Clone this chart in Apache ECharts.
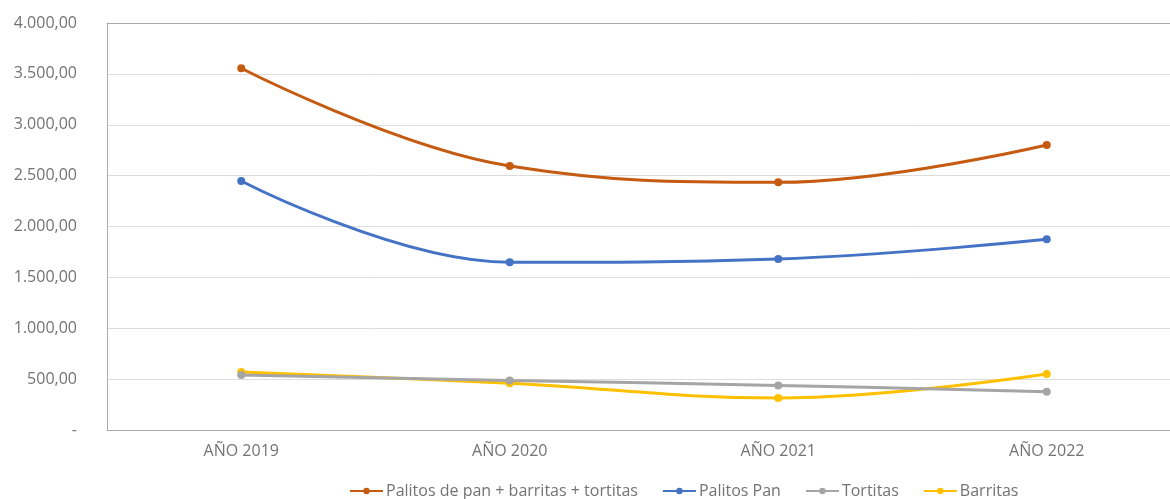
<!DOCTYPE html>
<html>
<head>
<meta charset="utf-8">
<script src="https://cdn.jsdelivr.net/npm/echarts@6/dist/echarts.min.js"></script>
<style>html,body{margin:0;padding:0;background:#fff;overflow:hidden;width:1170px;height:499px;}#c{width:1181px;height:499px;}</style>
</head>
<body>
<div id="c"></div>
<script>
const categories = ['AÑO 2019', 'AÑO 2020', 'AÑO 2021', 'AÑO 2022'];
const seriesNames = ['Palitos de pan + barritas + tortitas', 'Palitos Pan', 'Tortitas', 'Barritas'];
const totalValues = [3555, 2595, 2434, 2801];
const palitosValues = [2447, 1648, 1681, 1874];
const tortitasValues = [540, 487, 438, 376];
const barritasValues = [570, 460, 315, 550];
const colors = ['#C55A11', '#4472C4', '#A5A5A5', '#FFC000'];

function fmt(v) {
  if (v === 0) return '-';
  const s = Math.round(v).toString().replace(/\B(?=(\d{3})+(?!\d))/g, '.');
  return s + ',00';
}

const FONT = 'Open Sans, Liberation Sans, sans-serif';
const TXT = '#737373';
const chart = echarts.init(document.getElementById('c'));
const dataSets = [totalValues, palitosValues, tortitasValues, barritasValues];
chart.setOption({
  animation: false,
  textStyle: { fontFamily: FONT },
  grid: { left: 107, right: 0, top: 23, bottom: 69, show: false },
  legend: {
    top: 478, left: 344, itemWidth: 33, itemHeight: 8, itemGap: 24,
    textStyle: { color: TXT, fontSize: 16, fontFamily: FONT, padding: [0, 0, 0, -2] },
    data: seriesNames
  },
  xAxis: [{
    type: 'category', data: categories, boundaryGap: true,
    axisLine: { show: true, lineStyle: { color: '#aaaaaa' } },
    axisTick: { show: false },
    axisLabel: { color: TXT, fontSize: 16, margin: 13 }
  }, {
    type: 'category', data: categories, position: 'top',
    axisLine: { show: true, lineStyle: { color: '#aaaaaa' } },
    axisTick: { show: false },
    axisLabel: { show: false }
  }],
  yAxis: {
    type: 'value', min: 0, max: 4000, interval: 500,
    axisLine: { show: true, lineStyle: { color: '#aaaaaa' } },
    axisTick: { show: false },
    splitLine: { lineStyle: { color: '#dcdcdc', width: 1 } },
    axisLabel: { color: TXT, fontSize: 16, margin: 30, formatter: fmt }
  },
  series: seriesNames.map((n, i) => ({
    name: n, type: 'line', data: dataSets[i], smooth: 0.4,
    symbol: 'circle', symbolSize: 8,
    lineStyle: { width: 3, color: colors[i] },
    itemStyle: { color: colors[i] },
    z: 10 - i
  }))
});
</script>
</body>
</html>
